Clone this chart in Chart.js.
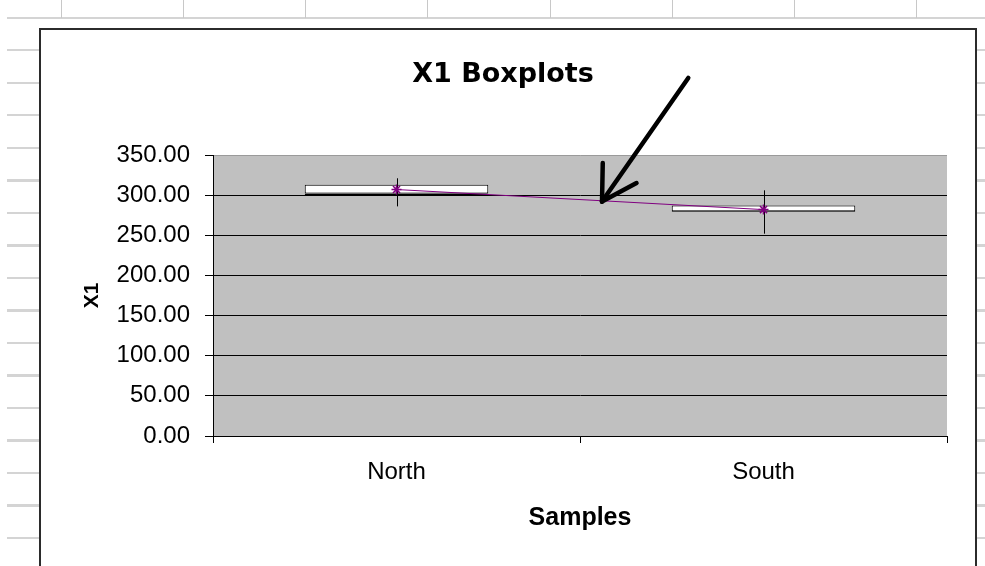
<!DOCTYPE html>
<html lang="en-US">
<head>
<meta charset="UTF-8">
<title>X1 Boxplots</title>
<script src="https://cdn.jsdelivr.net/npm/chart.js"></script>
<style>
    body { margin: 0; width: 985px; height: 566px; overflow: hidden; background: #fff; position: relative; }
    /* spreadsheet cells behind the chart object */
    #rows { position: absolute; left: 7px; top: 0; width: 978px; height: 566px;
        background-image: repeating-linear-gradient(to bottom, transparent 0px, transparent 17px, #d4d4d4 17px, #d4d4d4 19px, transparent 19px, transparent 32.5px); }
    #cols { position: absolute; left: 0; top: 0; width: 985px; height: 18px;
        background-image: repeating-linear-gradient(to right, transparent 0px, transparent 61px, #c8c8c8 61px, #c8c8c8 62px, transparent 62px, transparent 122.14px); }
    #box { position: absolute; left: 39px; top: 28px; width: 934px; height: 560px; border: 2px solid #2b2b2b; background: #fff; }
    #box canvas { display: block; }
</style>
</head>

<body>
    <div id="rows"></div>
    <div id="cols"></div>
    <div id="box">
        <canvas id="boxChart" width="924" height="540" style="width:924px;height:540px"></canvas>
    </div>

    <script>
        // values
        const categories = ['North', 'South'];
        const q1 = [300, 279];
        const median = [302, 280];
        const q3 = [313, 287];
        const whiskerLow = [286, 252];
        const whiskerHigh = [321, 306];
        const means = [307, 282];

        // the hand drawn arrow, in [category index, value] terms
        const arrowTail = [0.795, 446];
        const arrowTip = [0.56, 292];
        const arrowBarbs = [[0.562, 340], [0.654, 315]];

        const ink = '#000';
        const font = "'Liberation Sans', Arial, sans-serif";

        // gray plot area like Excel
        const plotBackground = {
            id: 'plotBackground',
            beforeDraw(chart) {
                const { ctx, chartArea: a } = chart;
                ctx.save();
                ctx.fillStyle = '#c0c0c0';
                ctx.fillRect(a.left, a.top, a.right - a.left, a.bottom - a.top);
                ctx.restore();
            }
        };

        // whiskers go over the boxes but under the mean line
        const whiskers = {
            id: 'whiskers',
            afterDatasetDraw(chart, args) {
                if (args.index !== 1) return;
                const { ctx, scales: { x, y } } = chart;
                ctx.save();
                ctx.strokeStyle = ink;
                ctx.lineWidth = 1;
                categories.forEach((c, i) => {
                    const px = Math.round(x.getPixelForValue(i)) + 0.5;
                    ctx.beginPath();
                    ctx.moveTo(px, y.getPixelForValue(whiskerHigh[i]));
                    ctx.lineTo(px, y.getPixelForValue(whiskerLow[i]));
                    ctx.stroke();
                });
                ctx.restore();
            }
        };

        const arrow = {
            id: 'arrow',
            afterDraw(chart) {
                const { ctx, scales: { x, y } } = chart;
                const pt = p => [x.getPixelForValue(p[0]), y.getPixelForValue(p[1])];
                const tip = pt(arrowTip);
                ctx.save();
                ctx.strokeStyle = ink;
                ctx.lineWidth = 4.5;
                ctx.lineCap = 'round';
                [arrowTail].concat(arrowBarbs).forEach(p => {
                    const from = pt(p);
                    ctx.beginPath();
                    ctx.moveTo(from[0], from[1]);
                    ctx.lineTo(tip[0], tip[1]);
                    ctx.stroke();
                });
                ctx.restore();
            }
        };

        const lowerBox = categories.map((c, i) => [q1[i], median[i]]);
        const upperBox = categories.map((c, i) => [median[i], q3[i]]);

        new Chart(document.getElementById('boxChart'), {
            type: 'bar',
            data: {
                labels: categories,
                datasets: [{
                    type: 'line',
                    label: 'Mean',
                    data: means,
                    borderColor: '#800080',
                    borderWidth: 1,
                    pointStyle: 'star',
                    pointRadius: 5,
                    pointBorderColor: '#800080',
                    pointBorderWidth: 1.5,
                    pointBackgroundColor: '#800080',
                    yAxisID: 'y'
                }, {
                    label: 'Q1-Median',
                    data: lowerBox,
                    backgroundColor: '#fff',
                    borderColor: ink,
                    borderWidth: 1,
                    borderSkipped: false,
                    categoryPercentage: 1,
                    barPercentage: 0.5
                }, {
                    label: 'Median-Q3',
                    data: upperBox,
                    backgroundColor: '#fff',
                    borderColor: ink,
                    borderWidth: 1,
                    borderSkipped: false,
                    categoryPercentage: 1,
                    barPercentage: 0.5
                }]
            },
            options: {
                responsive: false,
                animation: false,
                layout: { padding: 0 },
                plugins: {
                    legend: { display: false },
                    tooltip: { enabled: false },
                    title: {
                        display: true,
                        text: 'X1 Boxplots',
                        color: ink,
                        font: { family: "'DejaVu Sans', sans-serif", size: 27, weight: 'bold', lineHeight: 1.2 },
                        padding: { top: 28.8, bottom: 63.8 }
                    }
                },
                scales: {
                    x: {
                        stacked: true,
                        offset: true,
                        grid: { display: true, drawOnChartArea: false, color: ink, tickLength: 7, offset: true },
                        border: { color: ink },
                        ticks: { color: ink, padding: 15, font: { family: font, size: 24 } },
                        title: {
                            display: true,
                            text: 'Samples',
                            color: ink,
                            font: { family: font, size: 25, weight: 'bold', lineHeight: 1.2 },
                            padding: { top: 0, bottom: 37 }
                        },
                        afterFit(scale) { scale.height = 134; }
                    },
                    y: {
                        stacked: false,
                        min: 0,
                        max: 350,
                        grid: {
                            color: c => (c.tick && c.tick.value === 350 ? '#9a9a9a' : ink),
                            tickColor: ink,
                            tickLength: 8
                        },
                        border: { color: ink },
                        ticks: {
                            stepSize: 50,
                            color: ink,
                            padding: 15,
                            font: { family: font, size: 24 },
                            callback: v => v.toFixed(2)
                        },
                        title: {
                            display: true,
                            text: 'X1',
                            color: ink,
                            font: { family: font, size: 21, weight: 'bold', lineHeight: 1.2 },
                            padding: { top: 38.4, bottom: 0 }
                        },
                        afterFit(scale) { scale.width = 172; }
                    },
                    // empty right gutter so the title centres like the original
                    gutter: {
                        type: 'linear',
                        position: 'right',
                        display: true,
                        grid: { display: false },
                        border: { display: false },
                        ticks: { display: false },
                        afterFit(scale) { scale.width = 18; }
                    }
                }
            },
            plugins: [plotBackground, whiskers, arrow]
        });
    </script>
</body>
</html>
